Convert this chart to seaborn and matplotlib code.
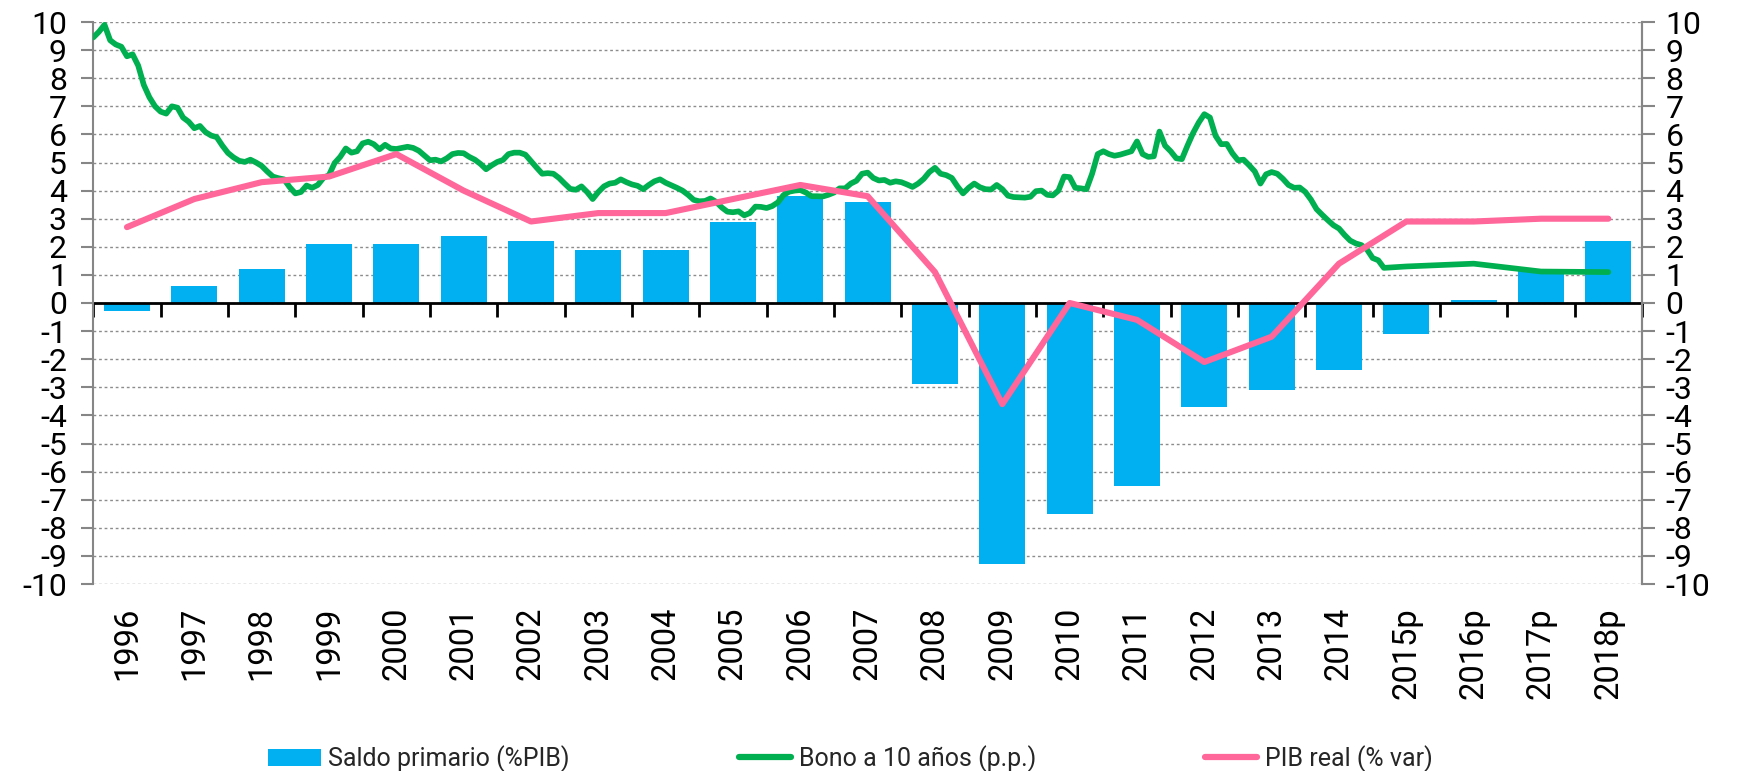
import numpy as np
import pandas as pd
import matplotlib
matplotlib.use("Agg")
import matplotlib.pyplot as plt
import seaborn as sns
from matplotlib.patches import Patch
from matplotlib.lines import Line2D

# ---------------- data ----------------
categorias = ["1996", "1997", "1998", "1999", "2000", "2001", "2002", "2003",
              "2004", "2005", "2006", "2007", "2008", "2009", "2010", "2011",
              "2012", "2013", "2014", "2015p", "2016p", "2017p", "2018p"]

saldo_primario = [-0.3, 0.6, 1.2, 2.1, 2.1, 2.4, 2.2, 1.9, 1.9, 2.9, 3.8, 3.6,
                  -2.9, -9.3, -7.5, -6.5, -3.7, -3.1, -2.4, -1.1, 0.1, 1.2, 2.2]

pib_real = [2.7, 3.7, 4.3, 4.5, 5.3, 4.0, 2.9, 3.2, 3.2, 3.7, 4.2, 3.8,
            1.1, -3.6, 0.0, -0.6, -2.1, -1.2, 1.4, 2.9, 2.9, 3.0, 3.0]

# Bono a 10 años: monthly observations from Jan-1996 to Mar-2015
bono_mensual = [
    9.45, 9.65, 9.90, 9.35, 9.20, 9.12, 8.78, 8.85, 8.45, 7.76, 7.32, 7.00,   # 1996
    6.81, 6.74, 7.00, 6.95, 6.60, 6.45, 6.22, 6.30, 6.08, 5.96, 5.90, 5.60,   # 1997
    5.34, 5.18, 5.06, 5.02, 5.10, 5.00, 4.88, 4.68, 4.50, 4.44, 4.40, 4.12,   # 1998
    3.90, 3.95, 4.18, 4.10, 4.20, 4.45, 4.55, 4.98, 5.20, 5.50, 5.35, 5.40,   # 1999
    5.68, 5.74, 5.65, 5.47, 5.63, 5.50, 5.48, 5.52, 5.56, 5.52, 5.42, 5.25,   # 2000
    5.08, 5.10, 5.04, 5.15, 5.30, 5.34, 5.33, 5.20, 5.10, 4.95, 4.76, 4.90,   # 2001
    5.02, 5.09, 5.30, 5.35, 5.35, 5.28, 5.05, 4.82, 4.60, 4.62, 4.60, 4.45,   # 2002
    4.25, 4.06, 4.03, 4.15, 3.95, 3.70, 3.95, 4.15, 4.25, 4.28, 4.40, 4.30,   # 2003
    4.22, 4.17, 4.05, 4.20, 4.33, 4.40, 4.28, 4.19, 4.10, 4.00, 3.85, 3.67,   # 2004
    3.62, 3.63, 3.72, 3.60, 3.40, 3.25, 3.23, 3.26, 3.12, 3.20, 3.43, 3.42,   # 2005
    3.38, 3.45, 3.58, 3.84, 3.96, 4.00, 4.02, 3.93, 3.80, 3.80, 3.79, 3.85,   # 2006
    3.93, 4.08, 4.08, 4.25, 4.35, 4.60, 4.64, 4.45, 4.36, 4.38, 4.28, 4.33,   # 2007
    4.30, 4.22, 4.13, 4.25, 4.42, 4.66, 4.81, 4.60, 4.55, 4.45, 4.15, 3.90,   # 2008
    4.10, 4.25, 4.12, 4.05, 4.04, 4.20, 4.05, 3.82, 3.77, 3.76, 3.75, 3.78,   # 2009
    3.98, 4.00, 3.85, 3.83, 4.00, 4.50, 4.48, 4.10, 4.08, 4.05, 4.60, 5.30,   # 2010
    5.40, 5.30, 5.24, 5.28, 5.34, 5.40, 5.75, 5.30, 5.20, 5.22, 6.10, 5.60,   # 2011
    5.40, 5.15, 5.12, 5.60, 6.05, 6.42, 6.72, 6.60, 5.95, 5.65, 5.66, 5.33,   # 2012
    5.08, 5.10, 4.90, 4.68, 4.25, 4.58, 4.66, 4.60, 4.42, 4.20, 4.10, 4.11,   # 2013
    3.95, 3.68, 3.34, 3.14, 2.95, 2.77, 2.65, 2.42, 2.22, 2.12, 2.06, 1.90,   # 2014
    1.60, 1.52, 1.25,                                                         # 2015
]
# Bono a 10 años: annual projections 2015p-2018p
bono_proyeccion = [1.30, 1.40, 1.12, 1.10]

COLOR_BAR = "#00B0F0"
COLOR_BONO = "#00B050"
COLOR_PIB = "#FF6699"
GRID = "#8c8c8c"
AXC = "#868686"

# ---------------- style ----------------
sns.set_theme(style="white")
plt.rcParams["font.family"] = ["Roboto", "DejaVu Sans"]
plt.rcParams["axes.unicode_minus"] = False

W, H = 1739, 771
fig = plt.figure(figsize=(W / 100, H / 100), dpi=100)
left, right, top, bottom = 93.3, 1642, 22, 584
ax = fig.add_axes([left / W, 1 - bottom / H, (right - left) / W, (bottom - top) / H])

pos = np.arange(len(categorias))
df = pd.DataFrame({"pos": pos, "cat": categorias, "saldo": saldo_primario, "pib": pib_real})

sns.barplot(data=df, x="pos", y="saldo", native_scale=True, color=COLOR_BAR,
            saturation=1, width=0.68, linewidth=0, ax=ax, zorder=1)

# Green series: monthly positions inside each year's category, then annual projections
n_m = len(bono_mensual)
x_bono = np.concatenate([-0.5 + np.arange(n_m) / 12.0, pos[19:23]])
y_bono = np.concatenate([bono_mensual, bono_proyeccion])
dfb = pd.DataFrame({"x": x_bono, "y": y_bono})
sns.lineplot(data=dfb, x="x", y="y", color=COLOR_BONO, linewidth=4.1,
             estimator=None, sort=False, ax=ax, zorder=3)

sns.lineplot(data=df, x="pos", y="pib", color=COLOR_PIB, linewidth=4.4,
             estimator=None, sort=False, ax=ax, zorder=4)

ax.set_xlim(-0.5, len(categorias) - 0.5)
ax.set_ylim(-10, 10)
ax.set_xlabel("")
ax.set_ylabel("")

# y axis / grid
yt = np.arange(-10, 11, 1)
ax.set_yticks(yt)
ax.set_yticklabels([str(v) for v in yt])
ax.yaxis.grid(True, linestyle=(0, (2, 2)), color=GRID, linewidth=1.0)
ax.xaxis.grid(False)
ax.set_axisbelow(True)
ax.tick_params(axis="y", left=True, length=9, width=1.5, color=AXC,
               direction="out", labelsize=23, pad=10, labelcolor="black")

# x labels at bottom
ax.set_xticks(pos)
ax.set_xticklabels(categorias, rotation=90)
ax.tick_params(axis="x", bottom=True, length=0, labelsize=23.5, pad=16.5, labelcolor="black")

for s in ["top", "bottom"]:
    ax.spines[s].set_visible(False)
for s in ["left", "right"]:
    ax.spines[s].set_color(AXC)
    ax.spines[s].set_linewidth(1.5)

# right axis labels
ax2 = ax.twinx()
ax2.set_ylim(-10, 10)
ax2.set_yticks(yt)
ax2.set_yticklabels([str(v) for v in yt])
ax2.tick_params(axis="y", right=True, length=9, width=1.5, color=AXC,
                direction="out", labelsize=23, pad=8, labelcolor="black")
ax2.grid(False)
for s in ["top", "bottom", "left"]:
    ax2.spines[s].set_visible(False)
ax2.spines["right"].set_color(AXC)
ax2.spines["right"].set_linewidth(1.5)

# horizontal category axis crossing at zero, ticks between categories
sec = ax.secondary_xaxis(0, transform=ax.transData)
sec.set_xticks(np.arange(-0.5, len(categorias), 1.0))
sec.set_xticklabels([])
sec.tick_params(axis="x", length=10, width=2, color="black", direction="out")
sec.spines["bottom"].set_color("black")
sec.spines["bottom"].set_linewidth(2)
sec.set_zorder(2)

# legend
handles = [Patch(facecolor=COLOR_BAR, edgecolor="none"),
           Line2D([0], [0], color=COLOR_BONO, linewidth=4.5),
           Line2D([0], [0], color=COLOR_PIB, linewidth=4.5)]
labels = ["Saldo primario (%PIB)", "Bono a 10 años (p.p.)", "PIB real (% var)"]
fig.legend(handles, labels, loc="center", bbox_to_anchor=(0.489, 0.016), ncol=3,
           frameon=False, fontsize=18, handlelength=2.1, handleheight=0.7,
           handletextpad=0.3, columnspacing=6.75, borderpad=0.1)

fig.savefig("out.png", dpi=100, facecolor="white")
